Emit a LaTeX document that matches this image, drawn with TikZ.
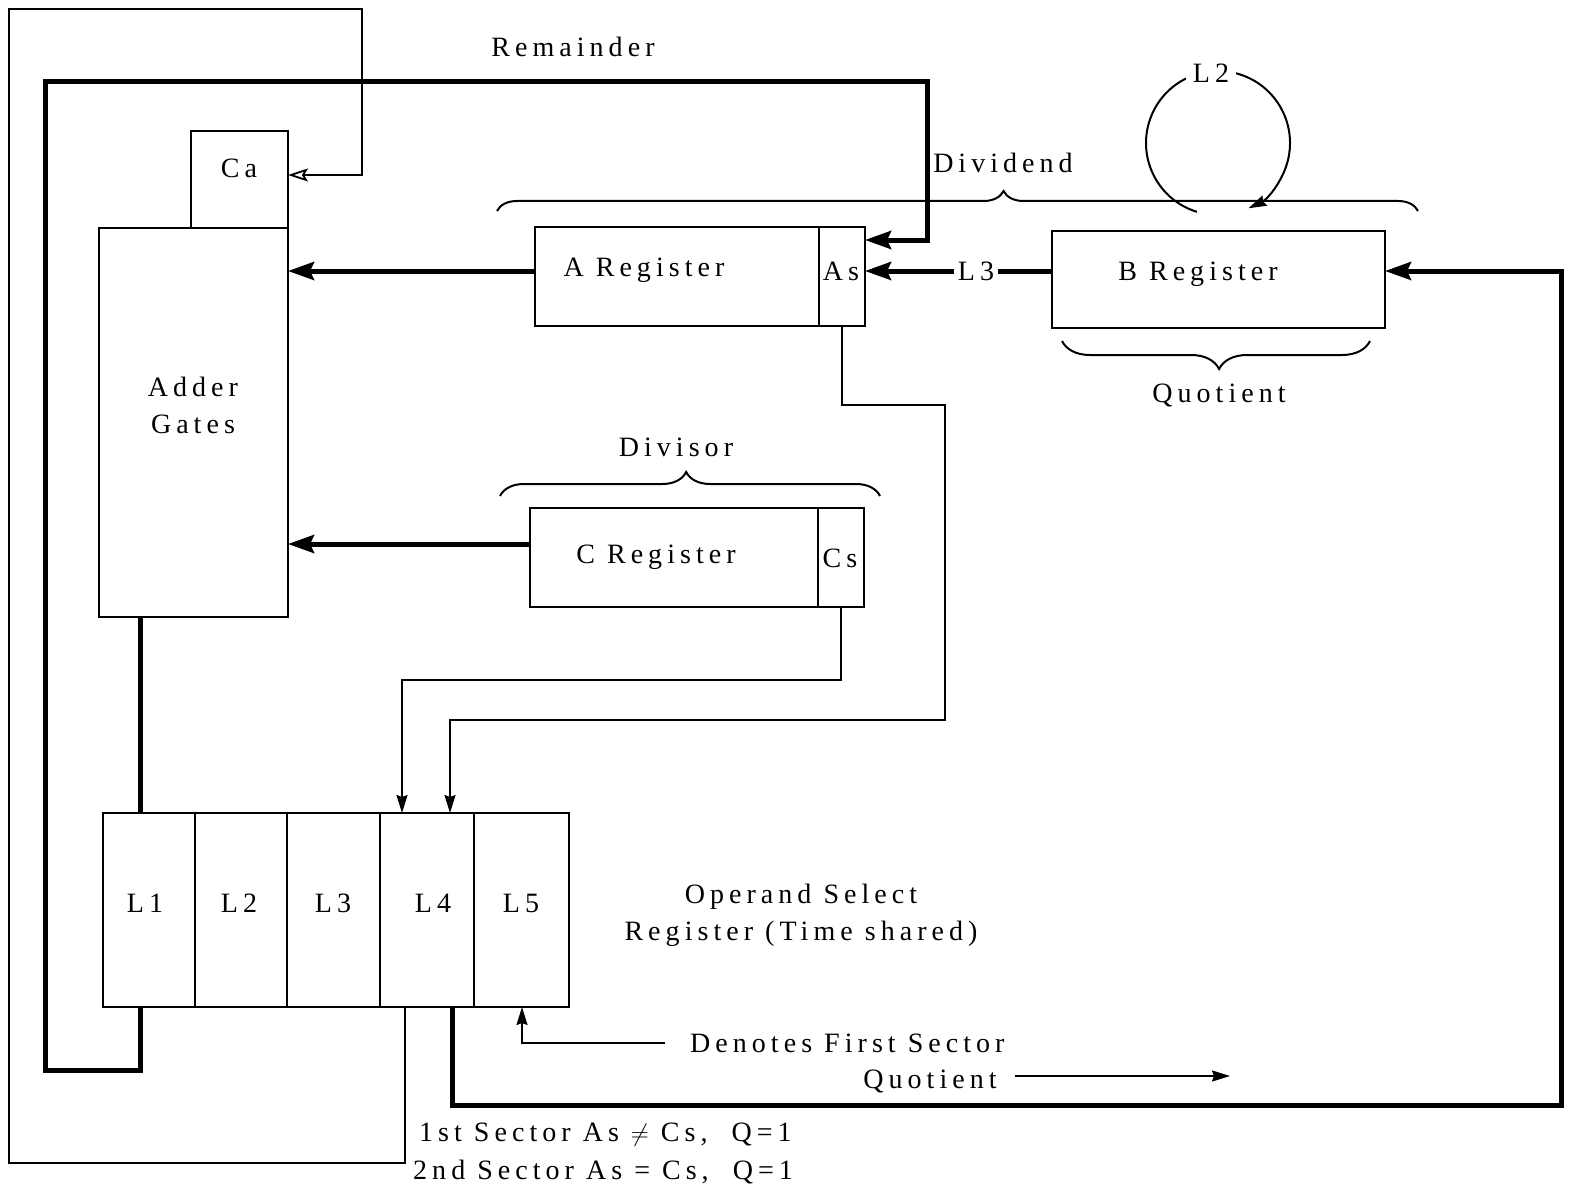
\documentclass[tikz,border=0pt]{standalone}
\usepackage{fontspec}
\setmainfont{Liberation Serif}[LetterSpace=18]
\usetikzlibrary{arrows.meta,decorations.pathreplacing,calc}
\begin{document}
\begin{tikzpicture}[x=1pt,y=-1pt,
  box/.style={draw,line width=2.2pt,inner sep=0pt,outer sep=0pt},
  lbl/.style={inner sep=0pt,font=\fontsize{28}{37}\selectfont},
  thinln/.style={line width=2pt},
  thickln/.style={line width=5pt},
  bigtip/.style={-{Stealth[length=26pt,width=18pt,inset=4pt]}},
  smalltip/.style={-{Stealth[length=18pt,width=11pt,inset=2pt]}},
  opentip/.style={-{Stealth[open,length=20pt,width=13pt,inset=4pt,line width=1.8pt]}},
  brc/.style={line width=2pt,decorate}
]
\useasboundingbox (0,0) rectangle (1579,1201);
\fill[white] (0,0) rectangle (1579,1201);

% helper coordinates
\coordinate (y271) at (0,271);
\coordinate (y544) at (0,544);
\coordinate (y240) at (0,240);
\coordinate (y175) at (0,175);
\coordinate (x140) at (140,0);
\coordinate (x405) at (405,0);
\coordinate (x452) at (452,0);
\coordinate (x450) at (450,0);
\coordinate (x402) at (402,0);
\coordinate (x522) at (522,0);

% boxes
\node[box,minimum width=97pt,minimum height=97pt] (ca) at (239.5,179.5) {};
\node[box,minimum width=189pt,minimum height=389pt] (adder) at (193.5,422.5) {};
\node[box,minimum width=284pt,minimum height=99pt] (areg) at (677,276.5) {};
\node[box,minimum width=46pt,minimum height=99pt] (as) at (842,276.5) {};
\node[box,minimum width=333pt,minimum height=97pt] (breg) at (1218.5,279.5) {};
\node[box,minimum width=288pt,minimum height=99pt] (creg) at (674,557.5) {};
\node[box,minimum width=46pt,minimum height=99pt] (cs) at (841,557.5) {};
\node[box,minimum width=92pt,minimum height=194pt] (l1) at (149,910) {};
\node[box,minimum width=92pt,minimum height=194pt] (l2) at (241,910) {};
\node[box,minimum width=93pt,minimum height=194pt] (l3) at (333.5,910) {};
\node[box,minimum width=94pt,minimum height=194pt] (l4) at (427,910) {};
\node[box,minimum width=95pt,minimum height=194pt] (l5) at (521.5,910) {};

% labels
\node[lbl] (tca) at (239,168) {Ca};
\node[lbl,align=center] (tadder) at (193,405) {Adder\\Gates};
\node[lbl] (tareg) at (644,270) {A Register};
\node[lbl] (tas) at (841,271) {As};
\node[lbl] (tbreg) at (1198,274) {B Register};
\node[lbl] (tcreg) at (656,557) {C Register};
\node[lbl] (tcs) at (840,558) {Cs};
\node[lbl] (tl1) at (145,903) {L1};
\node[lbl] (tl2) at (239,903) {L2};
\node[lbl] (tl3) at (333,903) {L3};
\node[lbl] (tl4) at (433,903) {L4};
\node[lbl] (tl5) at (521,903) {L5};
\node[lbl] (trem) at (573,47) {Remainder};
\node[lbl] (tdivd) at (1003,163) {Dividend};
\node[lbl] (tdivs) at (676,447) {Divisor};
\node[lbl] (tquot) at (1219,395) {Quotient};
\node[lbl,inner sep=4pt] (tL3) at (976,271) {L3};
\node[lbl,align=center] (toper) at (801,915) {Operand Select\\Register (Time shared)};
\node[lbl,anchor=west] (tden) at (690,1043) {Denotes First Sector};
\node[lbl] (tquot2) at (930,1081) {Quotient};
\node[lbl,anchor=west] (ts1) at (419,1135) {1st Sector As $\neq$ Cs,\ \ Q=1};
\node[lbl,anchor=west] (ts2) at (413,1172) {2nd Sector As = Cs,\ \ Q=1};
\coordinate (qend) at (1230,1076);

% L2 loop
\draw[thinln,smalltip] (1218,143) ++(107:72) arc[start angle=107,end angle=425,radius=72];
\node[lbl,fill=white,inner sep=7pt] (tL2) at (1211,73) {L2};

% braces
\draw[brc,decoration={brace,amplitude=20pt,aspect=0.55}] (497,211) -- (1418,211);
\draw[brc,decoration={brace,amplitude=28pt,aspect=0.49}] (1370,341) -- (1062,341);
\draw[brc,decoration={brace,amplitude=24pt,aspect=0.49}] (500,496) -- (880,496);

% connectors
\draw[thinln,opentip] (l4.south -| x405) -- (405,1163) -- (9,1163) -- (9,9) -- (362,9) -- (362,175) -- (ca.east |- y175);
\draw[thickln,bigtip] (l1.south -| x140) -- (140,1070) -- (45,1070) -- (45,82) -- (927,82) -- (927,240) -- (as.east |- y240);
\draw[thickln,bigtip] (areg.west |- y271) -- (adder.east |- y271);
\draw[thickln] (breg.west |- y271) -- (tL3.east);
\draw[thickln,bigtip] (tL3.west) -- (as.east |- y271);
\draw[thickln,bigtip] (creg.west |- y544) -- (adder.east |- y544);
\draw[thickln] (adder.south -| x140) -- (l1.north -| x140);
\draw[thickln,bigtip] (l4.south -| x452) -- (452,1105) -- (1561,1105) -- (1561,271) -- (breg.east |- y271);
\draw[thinln,smalltip] (as.south) |- (945,405) |- (450,720) -- (l4.north -| x450);
\draw[thinln,smalltip] (cs.south) |- (402,680) -- (l4.north -| x402);
\draw[thinln,smalltip] ([xshift=-25pt]tden.west) -| (l5.south -| x522);
\draw[thinln,smalltip] ([xshift=18pt]tquot2.east |- qend) -- (qend);
\end{tikzpicture}
\end{document}
